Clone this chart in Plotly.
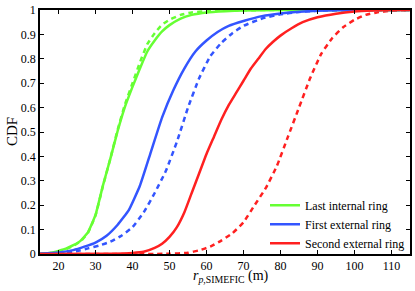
import plotly.graph_objects as go

# ---- data ----
green_solid_x = [15, 18, 20, 22, 24, 26, 28, 30, 32, 34, 36, 38, 40, 42, 44, 46, 48, 50, 53, 56, 60, 65, 70, 80, 115]
green_solid_y = [0.0, 0.005, 0.013, 0.022, 0.036, 0.055, 0.09, 0.16, 0.28, 0.39, 0.505, 0.605, 0.685, 0.76, 0.83, 0.875, 0.912, 0.938, 0.965, 0.98, 0.99, 0.995, 0.998, 1.0, 1.0]

green_dash_x = [15, 18, 20, 22, 24, 26, 28, 30, 32, 34, 36, 38, 40, 42, 44, 46, 48, 50, 53, 56, 60, 70, 80, 115]
green_dash_y = [0.0, 0.004, 0.011, 0.02, 0.033, 0.052, 0.088, 0.158, 0.278, 0.39, 0.51, 0.615, 0.70, 0.785, 0.86, 0.905, 0.94, 0.96, 0.98, 0.99, 0.995, 0.999, 1.0, 1.0]

blue_solid_x = [15, 20, 24, 27, 30, 33, 36, 39, 42, 45, 48, 51, 54, 57, 60, 63, 66, 70, 75, 80, 85, 90, 100, 115]
blue_solid_y = [0.001, 0.006, 0.016, 0.03, 0.047, 0.075, 0.12, 0.18, 0.28, 0.42, 0.56, 0.67, 0.76, 0.83, 0.875, 0.91, 0.935, 0.955, 0.975, 0.986, 0.993, 0.997, 1.0, 1.0]

blue_dash_x = [15, 20, 25, 28, 31, 34, 37, 40, 43, 46, 49, 52, 55, 58, 61, 64, 67, 70, 75, 80, 85, 90, 100, 115]
blue_dash_y = [0.001, 0.004, 0.012, 0.023, 0.035, 0.05, 0.075, 0.11, 0.17, 0.25, 0.34, 0.46, 0.60, 0.72, 0.81, 0.865, 0.905, 0.935, 0.965, 0.982, 0.992, 0.997, 1.0, 1.0]

red_solid_x = [15, 35, 40, 43, 46, 48, 50, 52, 54, 56, 58, 60, 62, 64, 66, 68, 70, 72, 74, 76, 78, 80, 83, 86, 90, 95, 100, 105, 110, 115]
red_solid_y = [0.0, 0.001, 0.004, 0.009, 0.025, 0.042, 0.07, 0.11, 0.17, 0.25, 0.33, 0.41, 0.48, 0.55, 0.61, 0.66, 0.71, 0.76, 0.80, 0.84, 0.87, 0.895, 0.925, 0.95, 0.97, 0.985, 0.994, 0.998, 1.0, 1.0]

red_dash_x = [15, 50, 55, 58, 61, 64, 67, 70, 73, 76, 79, 82, 85, 88, 91, 94, 97, 100, 103, 106, 110, 115]
red_dash_y = [0.0, 0.001, 0.005, 0.015, 0.03, 0.055, 0.085, 0.13, 0.20, 0.27, 0.36, 0.48, 0.60, 0.72, 0.82, 0.885, 0.93, 0.96, 0.98, 0.99, 0.997, 1.0]

legend_names = ["Last internal ring", "First external ring", "Second external ring"]
x_ticks = [20, 30, 40, 50, 60, 70, 80, 90, 100, 110]
y_ticks = [0, 0.1, 0.2, 0.3, 0.4, 0.5, 0.6, 0.7, 0.8, 0.9, 1]
y_tick_text = ["0", "0.1", "0.2", "0.3", "0.4", "0.5", "0.6", "0.7", "0.8", "0.9", "1"]

GREEN = "#66ff33"
BLUE = "#3355ff"
RED = "#ff2020"
FONT = "Liberation Serif"

fig = go.Figure()
series = [
    (green_solid_x, green_solid_y, green_dash_x, green_dash_y, GREEN, legend_names[0]),
    (blue_solid_x, blue_solid_y, blue_dash_x, blue_dash_y, BLUE, legend_names[1]),
    (red_solid_x, red_solid_y, red_dash_x, red_dash_y, RED, legend_names[2]),
]
for sx, sy, dx, dy, col, name in series:
    fig.add_trace(go.Scatter(x=dx, y=dy, mode="lines",
                             line=dict(color=col, width=2.5, dash="5px,4px", shape="spline", smoothing=0.4),
                             showlegend=False, hoverinfo="skip"))
for sx, sy, dx, dy, col, name in series:
    fig.add_trace(go.Scatter(x=sx, y=sy, mode="lines", name=name,
                             line=dict(color=col, width=2.5, shape="spline", smoothing=0.4)))

axis_common = dict(showline=True, linecolor="black", linewidth=1.5, mirror="ticks",
                   ticks="inside", ticklen=4, tickcolor="black", tickwidth=1,
                   showgrid=False, zeroline=False, automargin=False,
                   tickfont=dict(family=FONT, size=12, color="black"))

L, R, T, B = 40, 5, 10, 37
W, H = 415, 291
pw = W - L - R
ph = H - T - B

fig.update_layout(
    width=W, height=H,
    margin=dict(l=L, r=R, t=T, b=B, autoexpand=False),
    paper_bgcolor="white", plot_bgcolor="white",
    font=dict(family=FONT, color="black"),
    xaxis=dict(range=[15, 115], tickvals=x_ticks, **axis_common),
    yaxis=dict(range=[0, 1], tickvals=y_ticks, ticktext=y_tick_text, **axis_common),
    legend=dict(x=1.0, y=-0.015, xanchor="right", yanchor="bottom", bgcolor="rgba(0,0,0,0)",
                font=dict(family=FONT, size=12), tracegroupgap=0, itemwidth=30),
    showlegend=True,
    annotations=[
        dict(text="<i>r</i><sub><i>p</i>,SIMEFIC</sub> (m)", xref="paper", yref="paper",
             x=(191 - L) / pw, y=-(266 - (H - B)) / ph, xanchor="left", yanchor="top",
             showarrow=False, font=dict(family=FONT, size=14, color="black")),
        dict(text="CDF", xref="paper", yref="paper", textangle=-90,
             x=-(L - 12) / pw, y=0.5, xanchor="center", yanchor="middle",
             showarrow=False, font=dict(family=FONT, size=15, color="black")),
    ],
)

fig.write_html("out.html", config={"displayModeBar": False},
               post_script="document.body.style.margin='0';document.body.style.padding='0';")
